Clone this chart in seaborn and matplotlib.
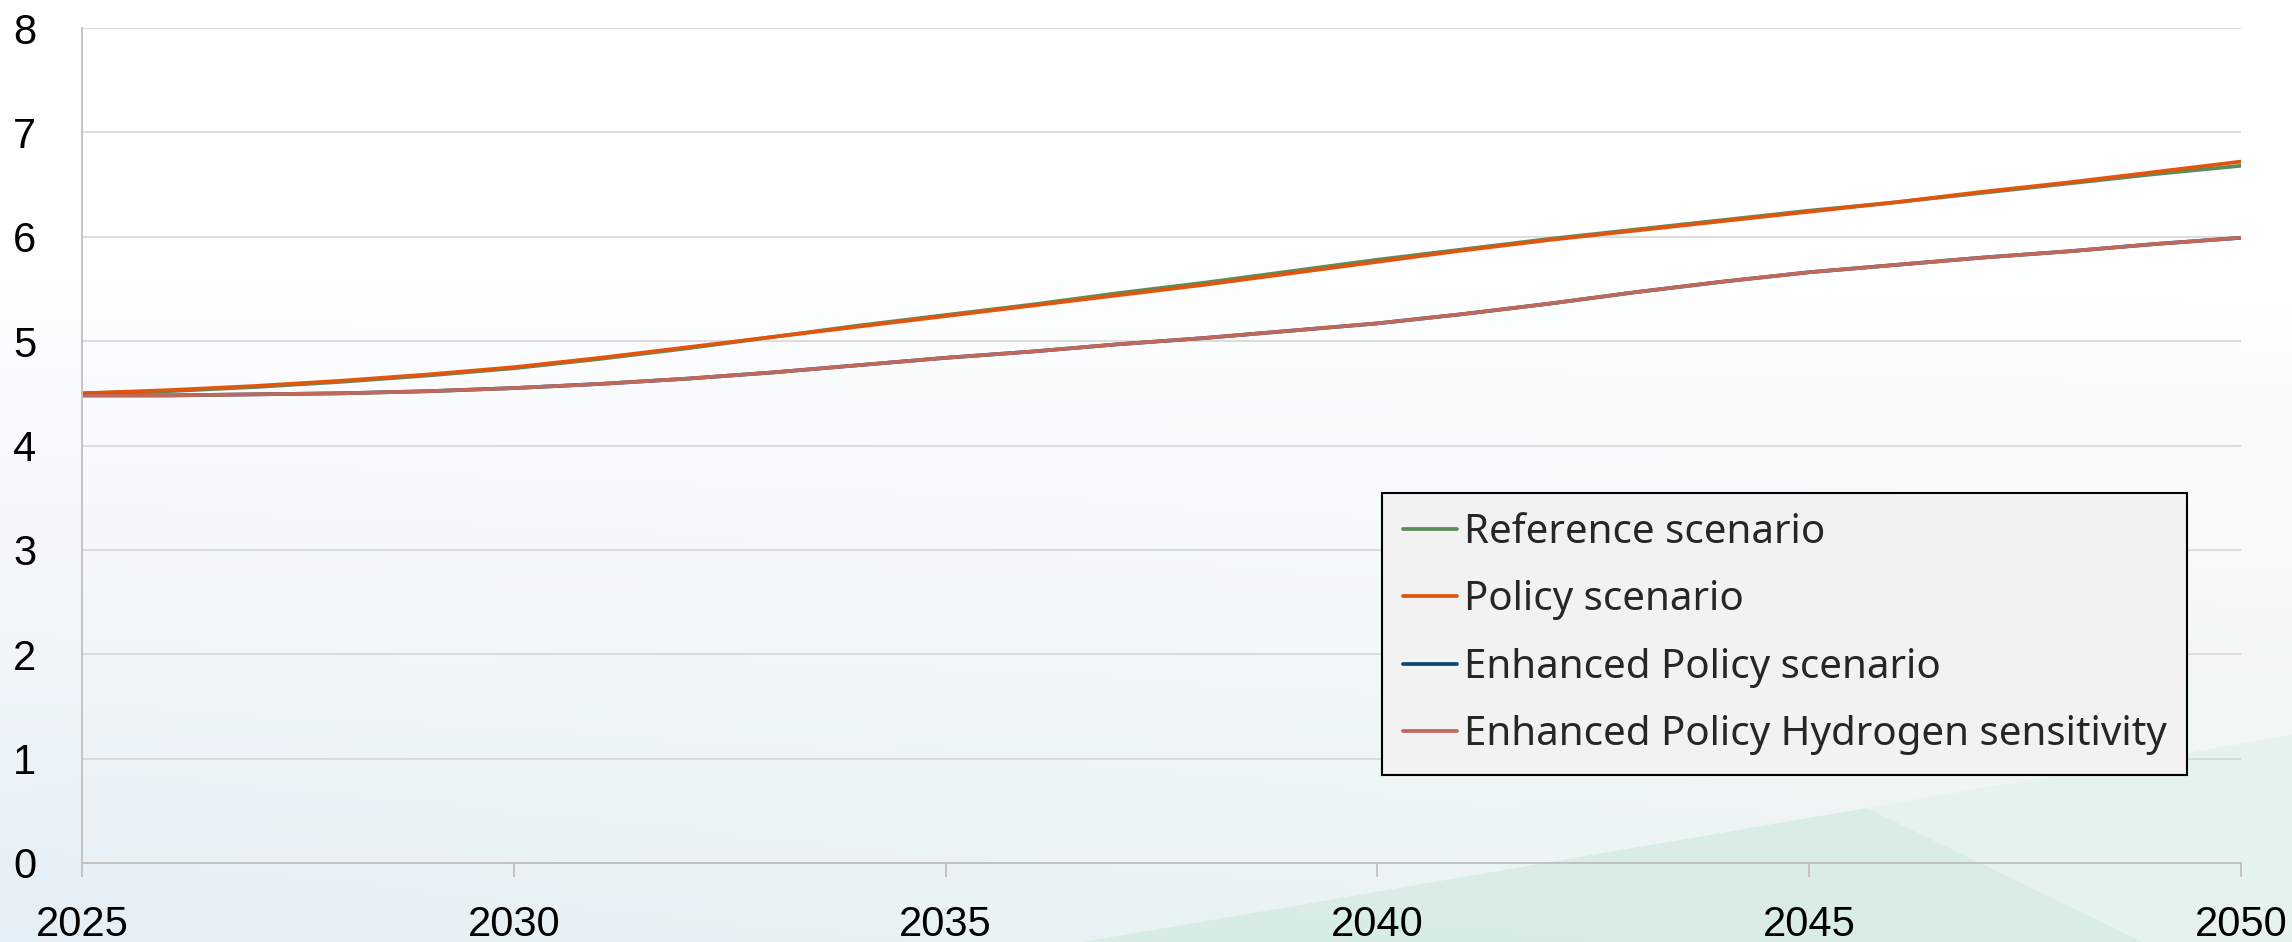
import numpy as np
import pandas as pd
import matplotlib
matplotlib.use("Agg")
import matplotlib.pyplot as plt
from matplotlib.patches import Polygon
import seaborn as sns

# values, one per year
years = list(range(2025, 2051))
reference = [4.50, 4.52, 4.56, 4.61, 4.67, 4.74, 4.83, 4.93, 5.04, 5.15, 5.25,
             5.35, 5.46, 5.56, 5.67, 5.78, 5.88, 5.98, 6.07, 6.16, 6.25,
             6.33, 6.42, 6.51, 6.60, 6.68]
policy = [4.50, 4.53, 4.57, 4.62, 4.68, 4.75, 4.84, 4.94, 5.04, 5.14, 5.24,
          5.34, 5.44, 5.54, 5.65, 5.76, 5.87, 5.97, 6.06, 6.15, 6.24,
          6.33, 6.43, 6.52, 6.62, 6.72]
enhanced = [4.48, 4.48, 4.49, 4.50, 4.52, 4.55, 4.59, 4.64, 4.70, 4.77, 4.84,
            4.90, 4.97, 5.03, 5.10, 5.17, 5.26, 5.36, 5.47, 5.57, 5.66,
            5.73, 5.80, 5.86, 5.93, 5.99]
hydrogen = [4.48, 4.48, 4.49, 4.50, 4.52, 4.55, 4.59, 4.64, 4.70, 4.77, 4.84,
            4.90, 4.97, 5.03, 5.10, 5.17, 5.26, 5.36, 5.47, 5.57, 5.66,
            5.73, 5.80, 5.86, 5.93, 5.99]

scenario_names = ["Reference scenario", "Policy scenario",
                  "Enhanced Policy scenario", "Enhanced Policy Hydrogen sensitivity"]
scenario_colors = ["#5b8c5a", "#e1550f", "#0e4775", "#c0695b"]
x_ticks = [2025, 2030, 2035, 2040, 2045, 2050]
y_ticks = [0, 1, 2, 3, 4, 5, 6, 7, 8]

df = pd.DataFrame({
    "year": years * 4,
    "value": reference + policy + enhanced + hydrogen,
    "scenario": np.repeat(scenario_names, len(years)),
})

sns.set_theme(style="white")
plt.rcParams["font.family"] = ["Liberation Sans", "DejaVu Sans"]

fig = plt.figure(figsize=(22.92, 9.42), dpi=100)

# soft slide-style background
bg = fig.add_axes([0, 0, 1, 1], zorder=-10)
bg.set_axis_off()
h, w = 200, 300
t = np.clip((np.linspace(0, 1, h) - 0.25) / 0.75, 0, 1)[:, None, None]
s = np.linspace(0, 1, w)[None, :, None]
bottom_col = (1 - s) * np.array([0.900, 0.937, 0.965]) + s * np.array([0.925, 0.960, 0.945])
img = (1 - t) * np.ones(3) + t * bottom_col
bg.imshow(img, extent=(0, 2292, 942, 0), aspect="auto")
bg.add_patch(Polygon([(1083, 942), (1867, 808), (2143, 942)], closed=True,
                     color="#d6ece4", alpha=0.85, lw=0))
bg.add_patch(Polygon([(1867, 808), (2292, 735), (2292, 942), (2143, 942)], closed=True,
                     color="#e4f2ed", alpha=0.85, lw=0))
bg.set_xlim(0, 2292)
bg.set_ylim(942, 0)

ax = fig.add_axes([82 / 2292, 79 / 942, 2159 / 2292, 835 / 942])
ax.set_facecolor("none")

sns.lineplot(data=df, x="year", y="value", hue="scenario", hue_order=scenario_names,
             palette=dict(zip(scenario_names, scenario_colors)), linewidth=2.7,
             ax=ax)

ax.set_xlim(2025, 2050)
ax.set_ylim(0, 8)
ax.set_xticks(x_ticks)
ax.set_yticks(y_ticks)
ax.set_xlabel("")
ax.set_ylabel("")
ax.grid(axis="y", color="#d9d9d9", linewidth=1.3)
ax.grid(axis="x", visible=False)
for side in ["top", "right"]:
    ax.spines[side].set_visible(False)
for side in ["left", "bottom"]:
    ax.spines[side].set_color("#bfbfbf")
    ax.spines[side].set_linewidth(1.3)
ax.tick_params(axis="x", direction="out", length=10, width=1.3, color="#bfbfbf",
               pad=20, labelsize=30, labelcolor="black", bottom=True)
ax.tick_params(axis="y", length=0, pad=33, labelsize=30, labelcolor="black")

handles, labels = ax.get_legend_handles_labels()
leg = ax.legend(handles, labels, loc="lower right", bbox_to_anchor=(0.975, 0.105),
                borderaxespad=0, frameon=True, fancybox=False, framealpha=1,
                facecolor="#f2f2f2", edgecolor="black", handlelength=1.35,
                handletextpad=0.18, borderpad=0.5, labelspacing=0.68,
                prop={"family": "Noto Sans", "size": 29})
leg.get_frame().set_linewidth(1.5)

fig.savefig("out.png", dpi=100)
